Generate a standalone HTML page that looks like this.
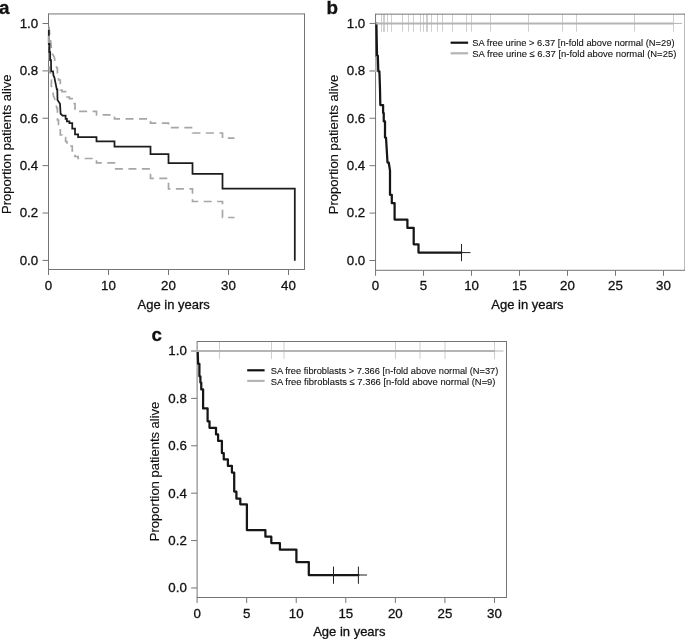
<!DOCTYPE html>
<html><head><meta charset="utf-8"><title>Figure</title>
<style>
html,body{margin:0;padding:0;background:#fff;}
body{width:685px;height:639px;overflow:hidden;font-family:"Liberation Sans",sans-serif;}
svg{display:block;will-change:transform;}
svg text{font-family:"Liberation Sans",sans-serif;stroke:#111;stroke-width:0.3px;}
</style></head><body>
<svg width="685" height="639" viewBox="0 0 685 639">
<rect width="685" height="639" fill="#ffffff"/>
<path d="M48.5,13.95 H304.5 M48.5,269.5 H304.5 M48.5,13.45 V270.0 M304.5,13.45 V270.0" fill="none" stroke="#757575" stroke-width="1"/>
<line x1="42.5" x2="48.5" y1="260.40" y2="260.40" stroke="#757575" stroke-width="1"/>
<text x="38.20" y="264.75" text-anchor="end" font-size="13.3" fill="#111111">0.0</text>
<line x1="42.5" x2="48.5" y1="213.02" y2="213.02" stroke="#757575" stroke-width="1"/>
<text x="38.20" y="217.37" text-anchor="end" font-size="13.3" fill="#111111">0.2</text>
<line x1="42.5" x2="48.5" y1="165.64" y2="165.64" stroke="#757575" stroke-width="1"/>
<text x="38.20" y="169.99" text-anchor="end" font-size="13.3" fill="#111111">0.4</text>
<line x1="42.5" x2="48.5" y1="118.26" y2="118.26" stroke="#757575" stroke-width="1"/>
<text x="38.20" y="122.61" text-anchor="end" font-size="13.3" fill="#111111">0.6</text>
<line x1="42.5" x2="48.5" y1="70.88" y2="70.88" stroke="#757575" stroke-width="1"/>
<text x="38.20" y="75.23" text-anchor="end" font-size="13.3" fill="#111111">0.8</text>
<line x1="42.5" x2="48.5" y1="23.50" y2="23.50" stroke="#757575" stroke-width="1"/>
<text x="38.20" y="27.85" text-anchor="end" font-size="13.3" fill="#111111">1.0</text>
<line x1="48.50" x2="48.50" y1="269.5" y2="275.0" stroke="#757575" stroke-width="1"/>
<text x="48.50" y="289.60" text-anchor="middle" font-size="13.3" fill="#111111">0</text>
<line x1="108.50" x2="108.50" y1="269.5" y2="275.0" stroke="#757575" stroke-width="1"/>
<text x="108.50" y="289.60" text-anchor="middle" font-size="13.3" fill="#111111">10</text>
<line x1="168.50" x2="168.50" y1="269.5" y2="275.0" stroke="#757575" stroke-width="1"/>
<text x="168.50" y="289.60" text-anchor="middle" font-size="13.3" fill="#111111">20</text>
<line x1="228.50" x2="228.50" y1="269.5" y2="275.0" stroke="#757575" stroke-width="1"/>
<text x="228.50" y="289.60" text-anchor="middle" font-size="13.3" fill="#111111">30</text>
<line x1="288.50" x2="288.50" y1="269.5" y2="275.0" stroke="#757575" stroke-width="1"/>
<text x="288.50" y="289.60" text-anchor="middle" font-size="13.3" fill="#111111">40</text>
<text x="173.7" y="308.6" text-anchor="middle" font-size="13" fill="#111111">Age in years</text>
<text transform="translate(10.6,144.2) rotate(-90)" text-anchor="middle" font-size="13" style="stroke-width:0.15px" fill="#111111">Proportion patients alive</text>
<text x="-0.9" y="13.75" font-size="18.8" font-weight="bold" fill="#111">a</text>
<path d="M48.80,23.50 L49.60,33.00 L50.80,42.00 L51.50,50.00 L52.50,54.00 L54.30,57.00 L55.25,63.00 L56.80,68.00 L57.40,68.00 L57.40,77.00 L58.50,77.00 L58.50,80.00 L60.30,80.00 L60.30,90.00 L62.00,90.00 L62.00,91.60 L65.60,91.60 L65.60,94.50 L66.90,94.50 L66.90,97.00 L69.40,97.00 L69.40,98.60 L72.25,98.60 L72.25,103.50 L75.00,103.50 L75.00,109.00 L78.10,109.00 L78.10,111.30 L96.50,111.30 L96.50,114.80 L114.50,114.80 L114.50,118.90 L150.50,118.90 L150.50,123.10 L168.50,123.10 L168.50,127.60 L192.50,127.60 L192.50,133.00 L222.50,133.00 L222.50,138.10 L234.50,138.10" fill="none" stroke="#a6a6a6" stroke-width="1.7" stroke-dasharray="8 5.5" stroke-dashoffset="10.3" stroke-linejoin="miter"/>
<path d="M48.80,34.00 L49.00,50.00 L49.40,71.00 L50.60,73.75 L51.50,80.60 L51.20,86.00 L52.75,88.75 L53.40,96.00 L54.30,97.50 L56.80,108.00 L57.40,108.00 L57.40,120.00 L58.50,120.00 L58.50,124.40 L60.30,124.40 L60.30,135.00 L62.00,135.00 L62.00,137.50 L65.60,137.50 L65.60,141.50 L66.90,141.50 L66.90,144.00 L69.40,144.00 L69.40,146.00 L72.25,146.00 L72.25,151.00 L75.00,151.00 L75.00,156.50 L78.10,156.50 L78.10,158.50 L96.50,158.50 L96.50,162.90 L114.50,162.90 L114.50,168.80 L150.50,168.80 L150.50,178.40 L168.50,178.40 L168.50,188.80 L192.50,188.80 L192.50,201.50 L222.50,201.50 L222.50,217.50 L234.50,217.50" fill="none" stroke="#a6a6a6" stroke-width="1.7" stroke-dasharray="8 5.5" stroke-dashoffset="8.3" stroke-linejoin="miter"/>
<path d="M48.80,30.00 L48.80,44.00 L49.50,44.00 L49.50,52.00 L50.20,52.00 L50.20,60.00 L51.00,60.00 L51.20,71.30 L53.00,71.30 L53.50,75.60 L54.30,77.00 L56.80,89.40 L57.30,89.40 L57.50,100.00 L60.00,103.75 L60.60,113.75 L62.50,115.60 L65.60,115.60 L65.60,118.75 L66.90,118.75 L66.90,121.25 L69.40,121.25 L69.40,123.10 L72.25,123.10 L72.25,128.50 L75.00,128.50 L75.00,134.40 L78.10,134.40 L78.10,137.20 L96.50,137.20 L96.50,141.30 L114.50,141.30 L114.50,146.70 L150.50,146.70 L150.50,154.20 L168.50,154.20 L168.50,163.00 L192.50,163.00 L192.50,173.90 L222.50,173.90 L222.50,188.50 L294.80,188.50 L294.80,260.80" fill="none" stroke="#1c1c1c" stroke-width="1.75" stroke-linejoin="miter"/>
<line x1="48.9" x2="48.9" y1="35.8" y2="43" stroke="#a0a0a0" stroke-width="2"/>
<line x1="381.5" x2="381.5" y1="14.15" y2="31.8" stroke="#cfcfcf" stroke-width="1"/>
<line x1="383.5" x2="383.5" y1="14.15" y2="31.8" stroke="#cfcfcf" stroke-width="1"/>
<line x1="384.5" x2="384.5" y1="14.15" y2="31.8" stroke="#cfcfcf" stroke-width="1"/>
<line x1="387.5" x2="387.5" y1="14.15" y2="31.8" stroke="#cfcfcf" stroke-width="1"/>
<line x1="391.5" x2="391.5" y1="14.15" y2="31.8" stroke="#cfcfcf" stroke-width="1"/>
<line x1="402.5" x2="402.5" y1="14.15" y2="31.8" stroke="#cfcfcf" stroke-width="1"/>
<line x1="408.5" x2="408.5" y1="14.15" y2="31.8" stroke="#cfcfcf" stroke-width="1"/>
<line x1="413.5" x2="413.5" y1="14.15" y2="31.8" stroke="#cfcfcf" stroke-width="1"/>
<line x1="420.5" x2="420.5" y1="14.15" y2="31.8" stroke="#cfcfcf" stroke-width="1"/>
<line x1="423.5" x2="423.5" y1="14.15" y2="31.8" stroke="#cfcfcf" stroke-width="1"/>
<line x1="426.5" x2="426.5" y1="14.15" y2="31.8" stroke="#cfcfcf" stroke-width="1"/>
<line x1="427.5" x2="427.5" y1="14.15" y2="31.8" stroke="#cfcfcf" stroke-width="1"/>
<line x1="431.5" x2="431.5" y1="14.15" y2="31.8" stroke="#cfcfcf" stroke-width="1"/>
<line x1="437.5" x2="437.5" y1="14.15" y2="31.8" stroke="#cfcfcf" stroke-width="1"/>
<line x1="442.5" x2="442.5" y1="14.15" y2="31.8" stroke="#cfcfcf" stroke-width="1"/>
<line x1="452.5" x2="452.5" y1="14.15" y2="31.8" stroke="#cfcfcf" stroke-width="1"/>
<line x1="466.5" x2="466.5" y1="14.15" y2="31.8" stroke="#cfcfcf" stroke-width="1"/>
<line x1="471.5" x2="471.5" y1="14.15" y2="31.8" stroke="#cfcfcf" stroke-width="1"/>
<line x1="490.5" x2="490.5" y1="14.15" y2="31.8" stroke="#cfcfcf" stroke-width="1"/>
<line x1="528.5" x2="528.5" y1="14.15" y2="31.8" stroke="#cfcfcf" stroke-width="1"/>
<line x1="562.5" x2="562.5" y1="14.15" y2="31.8" stroke="#cfcfcf" stroke-width="1"/>
<line x1="576.5" x2="576.5" y1="14.15" y2="31.8" stroke="#cfcfcf" stroke-width="1"/>
<line x1="634.5" x2="634.5" y1="14.15" y2="31.8" stroke="#cfcfcf" stroke-width="1"/>
<line x1="673.5" x2="673.5" y1="14.15" y2="31.8" stroke="#cfcfcf" stroke-width="1"/>
<path d="M375.55,14.15 H685.0 M375.55,270.3 H685.0 M375.55,13.65 V270.8 M685.0,13.65 V270.8" fill="none" stroke="#757575" stroke-width="1"/>
<line x1="369.55" x2="375.55" y1="260.50" y2="260.50" stroke="#757575" stroke-width="1"/>
<text x="365.25" y="264.85" text-anchor="end" font-size="13.3" fill="#111111">0.0</text>
<line x1="369.55" x2="375.55" y1="213.09" y2="213.09" stroke="#757575" stroke-width="1"/>
<text x="365.25" y="217.44" text-anchor="end" font-size="13.3" fill="#111111">0.2</text>
<line x1="369.55" x2="375.55" y1="165.68" y2="165.68" stroke="#757575" stroke-width="1"/>
<text x="365.25" y="170.03" text-anchor="end" font-size="13.3" fill="#111111">0.4</text>
<line x1="369.55" x2="375.55" y1="118.27" y2="118.27" stroke="#757575" stroke-width="1"/>
<text x="365.25" y="122.62" text-anchor="end" font-size="13.3" fill="#111111">0.6</text>
<line x1="369.55" x2="375.55" y1="70.86" y2="70.86" stroke="#757575" stroke-width="1"/>
<text x="365.25" y="75.21" text-anchor="end" font-size="13.3" fill="#111111">0.8</text>
<line x1="369.55" x2="375.55" y1="23.45" y2="23.45" stroke="#757575" stroke-width="1"/>
<text x="365.25" y="27.80" text-anchor="end" font-size="13.3" fill="#111111">1.0</text>
<line x1="375.55" x2="375.55" y1="270.3" y2="275.8" stroke="#757575" stroke-width="1"/>
<text x="375.55" y="290.40" text-anchor="middle" font-size="13.3" fill="#111111">0</text>
<line x1="423.54" x2="423.54" y1="270.3" y2="275.8" stroke="#757575" stroke-width="1"/>
<text x="423.54" y="290.40" text-anchor="middle" font-size="13.3" fill="#111111">5</text>
<line x1="471.53" x2="471.53" y1="270.3" y2="275.8" stroke="#757575" stroke-width="1"/>
<text x="471.53" y="290.40" text-anchor="middle" font-size="13.3" fill="#111111">10</text>
<line x1="519.52" x2="519.52" y1="270.3" y2="275.8" stroke="#757575" stroke-width="1"/>
<text x="519.52" y="290.40" text-anchor="middle" font-size="13.3" fill="#111111">15</text>
<line x1="567.51" x2="567.51" y1="270.3" y2="275.8" stroke="#757575" stroke-width="1"/>
<text x="567.51" y="290.40" text-anchor="middle" font-size="13.3" fill="#111111">20</text>
<line x1="615.50" x2="615.50" y1="270.3" y2="275.8" stroke="#757575" stroke-width="1"/>
<text x="615.50" y="290.40" text-anchor="middle" font-size="13.3" fill="#111111">25</text>
<line x1="663.49" x2="663.49" y1="270.3" y2="275.8" stroke="#757575" stroke-width="1"/>
<text x="663.49" y="290.40" text-anchor="middle" font-size="13.3" fill="#111111">30</text>
<text x="527.5" y="308.7" text-anchor="middle" font-size="13" fill="#111111">Age in years</text>
<text transform="translate(337.6,144.4) rotate(-90)" text-anchor="middle" font-size="13" style="stroke-width:0.15px" fill="#111111">Proportion patients alive</text>
<text x="326.5" y="13.75" font-size="18.8" font-weight="bold" fill="#111">b</text>
<line x1="376" x2="376" y1="57" y2="72" stroke="#b4b4b4" stroke-width="1.8"/>
<line x1="369.5" x2="376" y1="70.9" y2="70.9" stroke="#b4b4b4" stroke-width="2"/>
<path d="M376.40,23.50 L377.00,55.60 L377.80,55.60 L378.30,71.30 L379.40,71.30 L380.00,88.75 L380.30,105.00 L383.10,105.00 L383.10,113.00 L383.75,113.00 L383.75,121.25 L385.00,121.25 L385.00,137.50 L386.00,137.50 L387.50,162.50 L388.75,162.50 L390.00,170.60 L390.00,194.75 L391.80,194.75 L391.80,203.20 L394.60,203.20 L394.60,219.60 L407.40,219.60 L407.40,227.90 L413.70,227.90 L413.70,244.30 L418.50,244.30 L418.50,252.60 L461.50,252.60" fill="none" stroke="#161616" stroke-width="2.25" stroke-linejoin="round" stroke-linecap="round"/>
<line x1="375.55" x2="673.3" y1="23.45" y2="23.45" stroke="#b4b4b4" stroke-width="2"/>
<line x1="673.3" x2="682" y1="23.45" y2="23.45" stroke="#b4b4b4" stroke-width="1"/>
<line x1="461.5" x2="461.5" y1="244" y2="261.2" stroke="#222" stroke-width="1"/>
<line x1="452.8" x2="470.5" y1="252.6" y2="252.6" stroke="#222" stroke-width="1"/>
<line x1="450.6" x2="468.1" y1="42.7" y2="42.7" stroke="#111" stroke-width="2.2"/>
<line x1="450.6" x2="468.1" y1="53.3" y2="53.3" stroke="#b4b4b4" stroke-width="2.2"/>
<text x="472.3" y="46.4" font-size="9.6" style="stroke-width:0.1px" fill="#111111" textLength="202.2" lengthAdjust="spacingAndGlyphs">SA free urine &gt; 6.37 [n-fold above normal (N=29)</text>
<text x="472.3" y="57.0" font-size="9.6" style="stroke-width:0.1px" fill="#111111" textLength="204" lengthAdjust="spacingAndGlyphs">SA free urine ≤ 6.37 [n-fold above normal (N=25)</text>
<line x1="219.5" x2="219.5" y1="341.5" y2="359.1" stroke="#cfcfcf" stroke-width="1"/>
<line x1="271.5" x2="271.5" y1="341.5" y2="359.1" stroke="#cfcfcf" stroke-width="1"/>
<line x1="284.0" x2="284.0" y1="341.5" y2="359.1" stroke="#cfcfcf" stroke-width="1"/>
<line x1="395.5" x2="395.5" y1="341.5" y2="359.1" stroke="#cfcfcf" stroke-width="1"/>
<line x1="420.0" x2="420.0" y1="341.5" y2="359.1" stroke="#cfcfcf" stroke-width="1"/>
<line x1="445.0" x2="445.0" y1="341.5" y2="359.1" stroke="#cfcfcf" stroke-width="1"/>
<line x1="494.5" x2="494.5" y1="341.5" y2="359.1" stroke="#cfcfcf" stroke-width="1"/>
<path d="M197.1,341.5 H506.5 M197.1,597.5 H506.5 M197.1,341.0 V598.0 M506.5,341.0 V598.0" fill="none" stroke="#757575" stroke-width="1"/>
<line x1="191.1" x2="197.1" y1="587.95" y2="587.95" stroke="#757575" stroke-width="1"/>
<text x="186.80" y="592.30" text-anchor="end" font-size="13.3" fill="#111111">0.0</text>
<line x1="191.1" x2="197.1" y1="540.56" y2="540.56" stroke="#757575" stroke-width="1"/>
<text x="186.80" y="544.91" text-anchor="end" font-size="13.3" fill="#111111">0.2</text>
<line x1="191.1" x2="197.1" y1="493.17" y2="493.17" stroke="#757575" stroke-width="1"/>
<text x="186.80" y="497.52" text-anchor="end" font-size="13.3" fill="#111111">0.4</text>
<line x1="191.1" x2="197.1" y1="445.78" y2="445.78" stroke="#757575" stroke-width="1"/>
<text x="186.80" y="450.13" text-anchor="end" font-size="13.3" fill="#111111">0.6</text>
<line x1="191.1" x2="197.1" y1="398.39" y2="398.39" stroke="#757575" stroke-width="1"/>
<text x="186.80" y="402.74" text-anchor="end" font-size="13.3" fill="#111111">0.8</text>
<line x1="191.1" x2="197.1" y1="351.00" y2="351.00" stroke="#757575" stroke-width="1"/>
<text x="186.80" y="355.35" text-anchor="end" font-size="13.3" fill="#111111">1.0</text>
<line x1="197.10" x2="197.10" y1="597.5" y2="603.0" stroke="#757575" stroke-width="1"/>
<text x="197.10" y="617.60" text-anchor="middle" font-size="13.3" fill="#111111">0</text>
<line x1="246.66" x2="246.66" y1="597.5" y2="603.0" stroke="#757575" stroke-width="1"/>
<text x="246.66" y="617.60" text-anchor="middle" font-size="13.3" fill="#111111">5</text>
<line x1="296.23" x2="296.23" y1="597.5" y2="603.0" stroke="#757575" stroke-width="1"/>
<text x="296.23" y="617.60" text-anchor="middle" font-size="13.3" fill="#111111">10</text>
<line x1="345.79" x2="345.79" y1="597.5" y2="603.0" stroke="#757575" stroke-width="1"/>
<text x="345.79" y="617.60" text-anchor="middle" font-size="13.3" fill="#111111">15</text>
<line x1="395.36" x2="395.36" y1="597.5" y2="603.0" stroke="#757575" stroke-width="1"/>
<text x="395.36" y="617.60" text-anchor="middle" font-size="13.3" fill="#111111">20</text>
<line x1="444.92" x2="444.92" y1="597.5" y2="603.0" stroke="#757575" stroke-width="1"/>
<text x="444.92" y="617.60" text-anchor="middle" font-size="13.3" fill="#111111">25</text>
<line x1="494.49" x2="494.49" y1="597.5" y2="603.0" stroke="#757575" stroke-width="1"/>
<text x="494.49" y="617.60" text-anchor="middle" font-size="13.3" fill="#111111">30</text>
<text x="349.3" y="635.8" text-anchor="middle" font-size="13" fill="#111111">Age in years</text>
<text transform="translate(158.9,471.4) rotate(-90)" text-anchor="middle" font-size="13" style="stroke-width:0.15px" fill="#111111">Proportion patients alive</text>
<text x="151.5" y="341.35" font-size="18.8" font-weight="bold" fill="#111">c</text>
<path d="M197.70,351.20 L198.10,363.75 L199.40,363.75 L199.40,376.25 L200.40,376.25 L200.40,382.50 L201.25,382.50 L201.25,389.40 L203.10,389.40 L203.10,408.40 L207.60,408.40 L207.60,421.25 L209.50,421.25 L209.50,427.75 L216.00,427.75 L216.00,434.40 L218.10,434.40 L218.10,440.90 L221.90,440.90 L221.90,453.10 L223.75,453.10 L223.75,459.40 L227.90,459.40 L227.90,465.90 L231.90,465.90 L231.90,472.50 L234.20,472.50 L234.20,491.50 L236.40,491.50 L236.40,498.50 L240.30,498.50 L240.30,504.30 L246.90,504.30 L246.90,530.10 L265.40,530.10 L265.40,536.70 L271.30,536.70 L271.30,543.10 L279.90,543.10 L279.90,549.70 L296.40,549.70 L296.40,562.10 L308.80,562.10 L308.80,575.00 L358.40,575.00" fill="none" stroke="#161616" stroke-width="2.25" stroke-linejoin="round" stroke-linecap="round"/>
<line x1="191.3" x2="494.8" y1="351.0" y2="351.0" stroke="#b4b4b4" stroke-width="2"/>
<line x1="494.8" x2="503.5" y1="351.0" y2="351.0" stroke="#b4b4b4" stroke-width="1"/>
<line x1="333.5" x2="333.5" y1="566.6" y2="583.8" stroke="#222" stroke-width="1"/>
<line x1="358.4" x2="358.4" y1="566.6" y2="583.8" stroke="#222" stroke-width="1"/>
<line x1="358.4" x2="367" y1="575" y2="575" stroke="#222" stroke-width="1"/>
<line x1="247.2" x2="264.6" y1="370.3" y2="370.3" stroke="#111" stroke-width="2.2"/>
<line x1="247.2" x2="264.6" y1="380.9" y2="380.9" stroke="#b4b4b4" stroke-width="2.2"/>
<text x="270.7" y="374.0" font-size="9.6" style="stroke-width:0.1px" fill="#111111" textLength="227.7" lengthAdjust="spacingAndGlyphs">SA free fibroblasts &gt; 7.366 [n-fold above normal (N=37)</text>
<text x="270.7" y="384.6" font-size="9.6" style="stroke-width:0.1px" fill="#111111" textLength="224.8" lengthAdjust="spacingAndGlyphs">SA free fibroblasts ≤ 7.366 [n-fold above normal (N=9)</text>
</svg>
</body></html>
